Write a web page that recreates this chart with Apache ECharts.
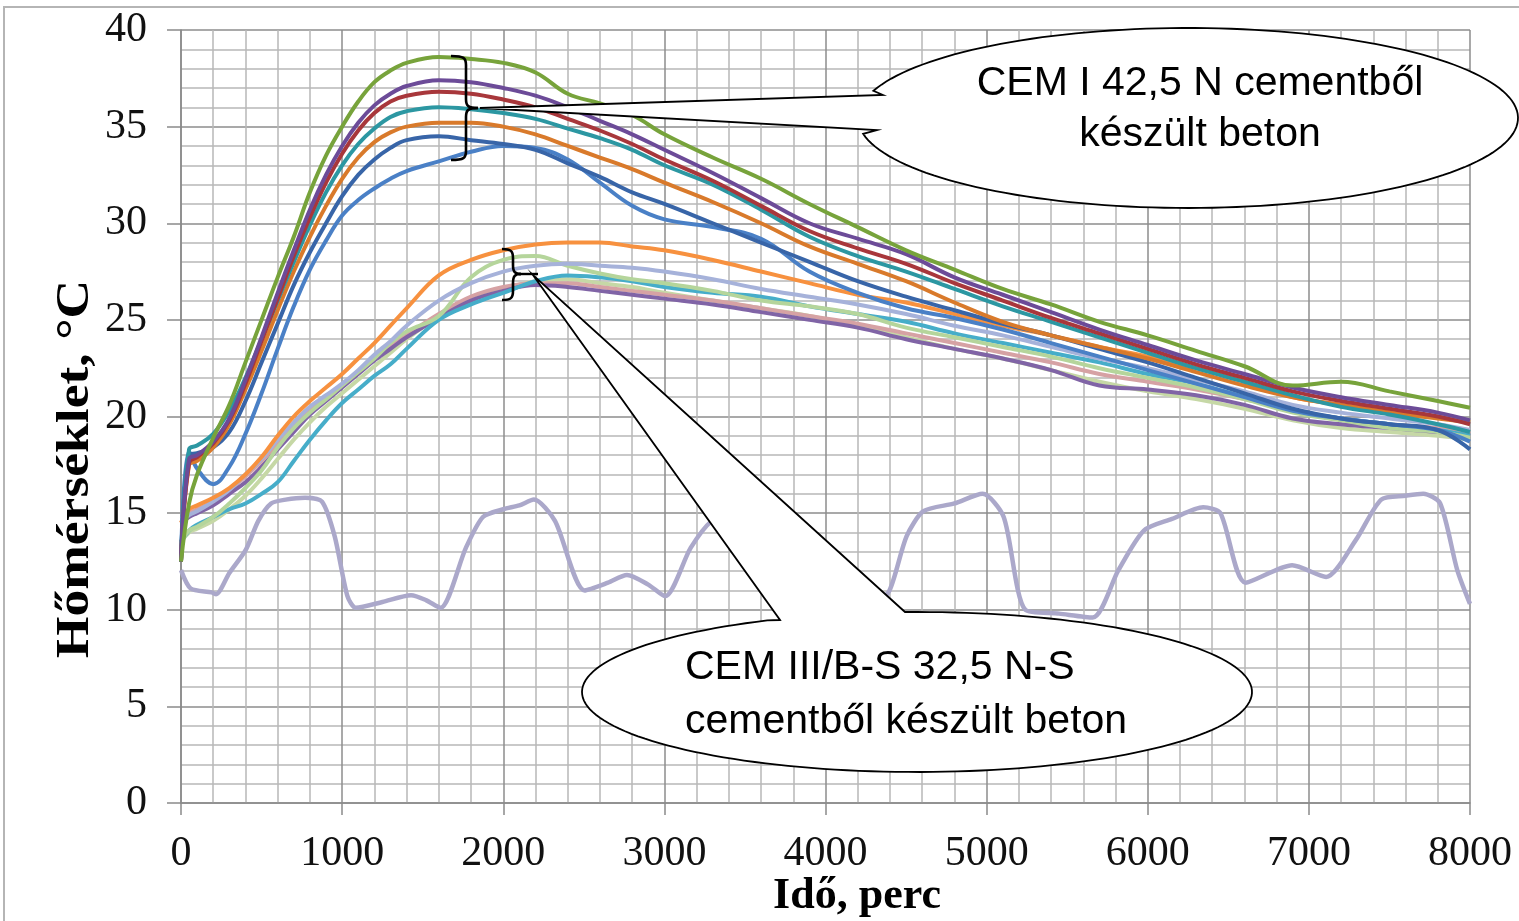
<!DOCTYPE html>
<html><head><meta charset="utf-8">
<script src="https://cdn.jsdelivr.net/npm/echarts@6/dist/echarts.min.js"></script>
<style>html,body{margin:0;padding:0;background:#fff}#c{width:1519px;height:921px}</style>
</head><body><div id="c"></div>
<script>
// ---- data (time in minutes, temperature in °C) ----
const time = [0, 50, 100, 200, 300, 400, 500, 600, 700, 800, 900, 1000, 1100, 1200, 1300, 1400, 1600, 1800, 2000, 2200, 2400, 2600, 2800, 3000, 3300, 3600, 3900, 4200, 4500, 4800, 5100, 5400, 5700, 6000, 6300, 6600, 6900, 7200, 7500, 7800, 8000];

// CEM I 42,5 N
const cem1Green  = [12.5, 15.5, 17.0, 18.9, 20.6, 22.8, 25.0, 27.2, 29.3, 31.6, 33.5, 35.0, 36.3, 37.3, 37.9, 38.3, 38.6, 38.5, 38.3, 37.8, 36.7, 36.2, 35.6, 34.6, 33.4, 32.3, 31.0, 29.8, 28.6, 27.6, 26.6, 25.8, 24.9, 24.2, 23.4, 22.6, 21.6, 21.8, 21.3, 20.8, 20.45];
const cem1Purple = [12.5, 17.8, 18.0, 18.7, 19.9, 21.9, 24.1, 26.4, 28.6, 30.7, 32.5, 34.0, 35.2, 36.1, 36.7, 37.1, 37.4, 37.3, 37.0, 36.6, 36.0, 35.3, 34.6, 33.8, 32.6, 31.3, 30.0, 29.2, 28.4, 27.2, 26.3, 25.4, 24.5, 23.7, 22.9, 22.2, 21.5, 21.0, 20.6, 20.2, 19.8];
const cem1Red    = [12.5, 17.6, 17.9, 18.6, 19.8, 21.7, 23.9, 26.1, 28.3, 30.3, 32.1, 33.6, 34.8, 35.7, 36.3, 36.6, 36.8, 36.7, 36.4, 36.0, 35.4, 34.8, 34.1, 33.3, 32.2, 30.9, 29.6, 28.7, 27.9, 26.9, 26.0, 25.1, 24.3, 23.5, 22.7, 22.0, 21.3, 20.8, 20.4, 20.0, 19.6];
const cem1Teal   = [12.5, 18.3, 18.5, 19.1, 20.3, 22.0, 24.0, 26.0, 28.0, 29.9, 31.6, 33.0, 34.1, 34.9, 35.5, 35.8, 36.0, 35.9, 35.7, 35.4, 34.9, 34.4, 33.8, 33.0, 32.0, 30.7, 29.3, 28.3, 27.5, 26.6, 25.7, 24.9, 24.1, 23.3, 22.5, 21.8, 21.1, 20.5, 20.1, 19.6, 19.2];
const cem1Orange = [12.5, 17.5, 17.7, 18.4, 19.6, 21.4, 23.4, 25.5, 27.5, 29.3, 30.9, 32.3, 33.4, 34.2, 34.7, 35.0, 35.2, 35.2, 35.0, 34.6, 34.0, 33.4, 32.8, 32.1, 31.1, 30.0, 28.8, 27.9, 27.0, 25.9, 24.9, 24.2, 23.6, 23.0, 22.3, 21.6, 21.0, 20.6, 20.2, 19.9, 19.7];
const cem1Blue1  = [12.5, 18.0, 18.1, 18.4, 19.2, 20.8, 22.8, 24.8, 26.8, 28.5, 30.0, 31.4, 32.5, 33.3, 33.9, 34.3, 34.5, 34.3, 34.1, 33.8, 33.1, 32.4, 31.6, 31.0, 30.0, 29.0, 28.0, 27.0, 26.2, 25.5, 24.8, 24.2, 23.5, 22.8, 22.0, 21.2, 20.4, 19.9, 19.6, 19.3, 18.3];
const cem1Blue2  = [12.5, 18.2, 17.3, 16.5, 17.4, 19.1, 21.2, 23.5, 25.7, 27.6, 29.1, 30.4, 31.2, 31.8, 32.3, 32.7, 33.2, 33.7, 34.0, 33.9, 33.3, 32.1, 30.9, 30.2, 29.8, 29.2, 27.5, 26.4, 25.6, 25.1, 24.5, 23.8, 23.1, 22.4, 21.7, 21.0, 20.3, 19.9, 19.6, 19.3, 18.7];

// CEM III/B-S 32,5 N-S
const cem3Orange   = [14.5, 15.2, 15.4, 15.8, 16.3, 17.0, 17.9, 19.0, 20.0, 20.8, 21.5, 22.2, 23.0, 23.8, 24.7, 25.6, 27.3, 28.1, 28.6, 28.9, 29.0, 29.0, 28.8, 28.6, 28.1, 27.5, 26.9, 26.3, 25.9, 25.3, 24.7, 24.2, 23.6, 23.1, 22.5, 21.8, 21.0, 20.6, 20.3, 20.0, 19.7];
const cem3Lavender = [14.5, 14.9, 15.1, 15.6, 16.2, 17.0, 17.8, 18.8, 19.7, 20.5, 21.1, 21.7, 22.4, 23.2, 23.9, 24.7, 26.0, 26.9, 27.5, 27.8, 27.9, 27.8, 27.7, 27.5, 27.1, 26.6, 26.2, 25.8, 25.3, 24.7, 24.2, 23.6, 23.0, 22.5, 21.9, 21.3, 20.6, 20.2, 19.9, 19.6, 19.3];
const cem3Green    = [13.5, 14.1, 14.3, 14.8, 15.5, 16.3, 17.2, 18.4, 19.4, 20.2, 20.9, 21.6, 22.3, 23.0, 23.8, 24.4, 25.2, 27.2, 28.1, 28.3, 27.8, 27.4, 27.1, 26.9, 26.5, 26.0, 25.7, 25.3, 24.6, 24.1, 23.6, 23.1, 22.5, 22.0, 21.5, 20.9, 20.2, 19.8, 19.4, 19.2, 18.9];
const cem3Cyan     = [13.5, 14.1, 14.4, 14.8, 15.2, 15.5, 16.0, 16.6, 17.7, 18.8, 19.8, 20.7, 21.4, 22.1, 22.7, 23.5, 25.0, 25.8, 26.4, 27.0, 27.3, 27.2, 27.0, 26.7, 26.4, 26.2, 25.7, 25.3, 24.9, 24.3, 23.8, 23.3, 22.8, 22.2, 21.7, 21.0, 20.3, 19.9, 19.6, 19.3, 19.0];
const cem3Purple   = [14.5, 14.8, 15.0, 15.4, 16.0, 16.6, 17.4, 18.3, 19.2, 20.1, 20.8, 21.5, 22.2, 22.9, 23.5, 24.1, 25.1, 26.0, 26.5, 26.8, 26.7, 26.5, 26.3, 26.1, 25.8, 25.4, 25.0, 24.6, 24.0, 23.5, 23.0, 22.4, 21.6, 21.4, 21.1, 20.6, 19.9, 19.6, 19.4, 19.2, 19.0];
const cem3Pink     = [14.7, 15.0, 15.2, 15.6, 16.2, 16.9, 17.7, 18.6, 19.5, 20.3, 21.0, 21.6, 22.3, 23.0, 23.6, 24.2, 25.3, 26.2, 26.7, 26.9, 26.9, 26.7, 26.5, 26.3, 26.0, 25.6, 25.2, 24.8, 24.3, 23.8, 23.3, 22.8, 22.2, 21.8, 21.4, 20.9, 20.3, 19.9, 19.6, 19.4, 19.1];
const cem3Sage     = [13.5, 14.0, 14.2, 14.6, 15.2, 15.9, 16.8, 17.8, 18.8, 19.7, 20.5, 21.2, 21.9, 22.6, 23.3, 24.0, 25.2, 26.1, 26.6, 27.0, 27.1, 26.9, 26.7, 26.4, 26.0, 25.6, 25.2, 24.7, 24.1, 23.5, 23.0, 22.4, 21.8, 21.3, 20.9, 20.4, 19.8, 19.4, 19.2, 19.0, 18.8];

// ambient air temperature
const ambientTime = [0, 60, 190, 218, 300, 402, 480, 559, 650, 770, 875, 954, 1033, 1085, 1250, 1428, 1520, 1611, 1768, 1874, 2000, 2100, 2190, 2321, 2505, 2650, 2768, 2900, 3005, 3163, 3294, 3450, 3600, 3700, 3800, 3900, 4050, 4200, 4300, 4397, 4503, 4608, 4800, 4975, 5106, 5240, 5450, 5659, 5818, 5976, 6150, 6344, 6451, 6607, 6896, 7107, 7291, 7449, 7600, 7710, 7815, 7921, 8000];
const ambientTemp = [12.05, 11.1, 10.9, 10.8, 11.9, 13.1, 14.6, 15.5, 15.7, 15.8, 15.6, 13.8, 10.7, 10.1, 10.4, 10.75, 10.5, 10.1, 13.2, 14.8, 15.2, 15.4, 15.7, 14.6, 11.0, 11.4, 11.8, 11.3, 10.7, 13.2, 14.6, 15.2, 15.6, 15.3, 13.0, 11.0, 10.6, 10.5, 10.3, 11.0, 13.8, 15.1, 15.5, 16.0, 14.8, 10.0, 9.8, 9.6, 12.05, 14.1, 14.7, 15.3, 15.0, 11.4, 12.3, 11.7, 13.6, 15.7, 15.9, 16.0, 15.5, 12.05, 10.3];

const xTitle = 'Idő, perc';
const yTitle = 'Hőmérséklet, °C';
const note1 = ['CEM I 42,5 N cementből', 'készült beton'];
const note2 = ['CEM III/B-S 32,5 N-S', 'cementből készült beton'];

// ---- chart ----
const chart = echarts.init(document.getElementById('c'), null, {renderer: 'canvas'});
function mk(name, color, arr, w) {
  return {type: 'line', name: name, data: time.map((t, i) => [t, arr[i]]), symbol: 'none', showSymbol: false,
    smooth: 0.4, lineStyle: {color: color, width: w || 4}, itemStyle: {color: color},
    emphasis: {disabled: true}, animation: false, z: 3};
}
const series = [
  {type: 'line', name: 'levegő', data: ambientTime.map((t, i) => [t, ambientTemp[i]]), symbol: 'none',
   smooth: 0.25, lineStyle: {color: '#ABA8CA', width: 4.5}, emphasis: {disabled: true}, animation: false, z: 2},
  mk('III-7', '#C6D8A6', cem3Sage),
  mk('III-6', '#D6A2A4', cem3Pink),
  mk('III-5', '#8064A6', cem3Purple),
  mk('III-4', '#46ADC9', cem3Cyan),
  mk('III-3', '#B5D59B', cem3Green),
  mk('III-2', '#A6B2DA', cem3Lavender),
  mk('III-1', '#F7913F', cem3Orange),
  mk('I-7', '#4A80C6', cem1Blue2),
  mk('I-6', '#3865A8', cem1Blue1),
  mk('I-5', '#D97A2B', cem1Orange),
  mk('I-4', '#2C97A2', cem1Teal),
  mk('I-3', '#A8373B', cem1Red),
  mk('I-2', '#6C4B98', cem1Purple),
  mk('I-1', '#77A33B', cem1Green)
];

const axisCommon = {
  axisLine: {show: true, lineStyle: {color: '#8a8a8a', width: 1.5}},
  splitLine: {show: true, lineStyle: {color: '#8c8c8c', width: 1.5}},
  minorTick: {show: false, splitNumber: 5},
  minorSplitLine: {show: true, lineStyle: {color: '#b8b8b8', width: 1.5}}
};
const tickFont = '"Liberation Serif", "Times New Roman", serif';

chart.setOption({
  backgroundColor: '#fff',
  animation: false,
  grid: {left: 181, top: 30, width: 1289, height: 773, containLabel: false},
  xAxis: Object.assign({type: 'value', min: 0, max: 8000, interval: 1000,
    axisLabel: {fontFamily: tickFont, fontSize: 42, color: '#111', margin: 30, formatter: v => String(v)},
    axisTick: {show: true, length: 12, lineStyle: {color: '#8a8a8a', width: 1.5}}}, axisCommon),
  yAxis: Object.assign({type: 'value', min: 0, max: 40, interval: 5,
    axisLabel: {fontFamily: tickFont, fontSize: 42, color: '#111', margin: 34, formatter: v => String(v)},
    axisTick: {show: true, length: 14, lineStyle: {color: '#8a8a8a', width: 1.5}}}, axisCommon),
  series: series
});

// ---- annotations ----
function bubble(cx, cy, rx, ry, b1, b2, tip) {
  const a1 = Math.atan2((b1[1] - cy) / ry, (b1[0] - cx) / rx);
  const a2 = Math.atan2((b2[1] - cy) / ry, (b2[0] - cx) / rx);
  let d = a2 - a1;
  while (d <= -Math.PI) d += 2 * Math.PI;
  while (d > Math.PI) d -= 2 * Math.PI;
  const longArc = d - Math.sign(d) * 2 * Math.PI;
  const pts = [b1];
  const n = 160;
  for (let i = 1; i < n; i++) {
    const a = a1 + longArc * i / n;
    pts.push([cx + rx * Math.cos(a), cy + ry * Math.sin(a)]);
  }
  pts.push(b2);
  pts.push(tip);
  return {type: 'polygon', shape: {points: pts}, style: {fill: '#fff', stroke: '#000', lineWidth: 1.8}, z: 100, silent: true};
}
function brace(x, yTop, yBot, yMid, hookX, cuspX) {
  const st = {stroke: '#000', lineWidth: 2.6, fill: null};
  const h = 9;
  return [
    {type: 'bezierCurve', shape: {x1: hookX, y1: yTop, cpx1: x - 2, cpy1: yTop, cpx2: x, cpy2: yTop + 2, x2: x, y2: yTop + h}, style: st, z: 101},
    {type: 'line', shape: {x1: x, y1: yTop + h, x2: x, y2: yMid - h}, style: st, z: 101},
    {type: 'bezierCurve', shape: {x1: x, y1: yMid - h, cpx1: x, cpy1: yMid - 2, cpx2: x + 2, cpy2: yMid, x2: cuspX, y2: yMid}, style: st, z: 101},
    {type: 'bezierCurve', shape: {x1: cuspX, y1: yMid, cpx1: x + 2, cpy1: yMid, cpx2: x, cpy2: yMid + 2, x2: x, y2: yMid + h}, style: st, z: 101},
    {type: 'line', shape: {x1: x, y1: yMid + h, x2: x, y2: yBot - h}, style: st, z: 101},
    {type: 'bezierCurve', shape: {x1: x, y1: yBot - h, cpx1: x, cpy1: yBot - 2, cpx2: x - 2, cpy2: yBot, x2: hookX, y2: yBot}, style: st, z: 101}
  ];
}
function txt(s, x, y, align, font) {
  return {type: 'text', x: x, y: y, z: 102, silent: true,
    style: {text: s, font: font, fill: '#000', textAlign: align, textVerticalAlign: 'middle', align: align, verticalAlign: 'middle'}};
}
const noteFont = '41px "Liberation Sans", Arial, sans-serif';
const titleFont = 'bold 44px "Liberation Serif", "Times New Roman", serif';
const yTitleFont = 'bold 47px "Liberation Serif", "Times New Roman", serif';
const graphics = [
  {type: 'rect', shape: {x: 4, y: 7, width: 1600, height: 1000}, style: {fill: null, stroke: '#b5b5b5', lineWidth: 2}, z: 0, silent: true},
  bubble(1188, 118, 330, 90, [883, 95], [877, 130], [480, 108]),
  bubble(917, 692, 335, 80, [780, 620], [905, 612], [533, 275])
].concat(brace(466, 56, 160, 108, 451, 478))
 .concat(brace(513, 249, 300, 274, 502, 521))
 .concat([
  {type: 'line', shape: {x1: 519, y1: 274, x2: 538, y2: 274}, style: {stroke: '#000', lineWidth: 2.4}, z: 101},
  txt(note1[0], 1200, 84, 'center', noteFont),
  txt(note1[1], 1200, 135, 'center', noteFont),
  txt(note2[0], 685, 668, 'left', noteFont),
  txt(note2[1], 685, 722, 'left', noteFont),
  txt(xTitle, 857, 897, 'center', titleFont),
  Object.assign(txt(yTitle, 76, 469, 'center', yTitleFont), {rotation: Math.PI / 2, scaleX: 1.14})
]);
chart.setOption({graphic: {elements: graphics}});
</script>
</body></html>
